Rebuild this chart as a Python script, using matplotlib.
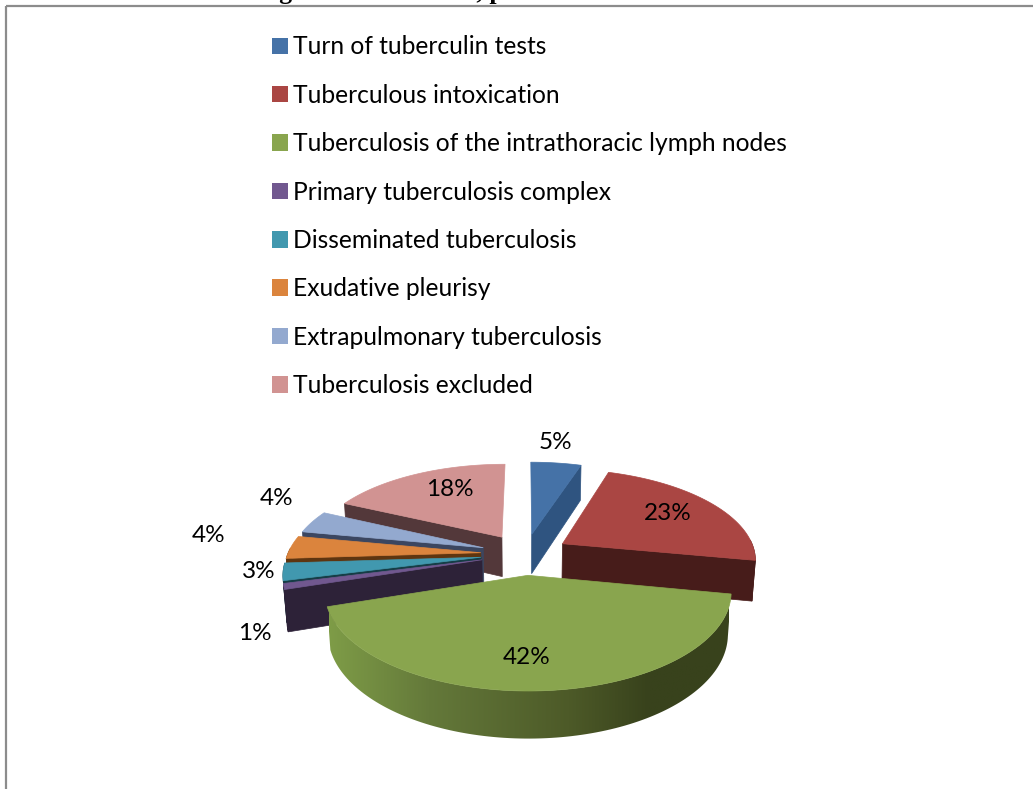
import numpy as np
import matplotlib
matplotlib.use("Agg")
import matplotlib.pyplot as plt
from matplotlib.patches import Patch, Polygon
from matplotlib.colors import LinearSegmentedColormap

# Values and names
categories = ["Turn of tuberculin tests", "Tuberculous intoxication",
              "Tuberculosis of the intrathoracic lymph nodes",
              "Primary tuberculosis complex", "Disseminated tuberculosis",
              "Exudative pleurisy", "Extrapulmonary tuberculosis",
              "Tuberculosis excluded"]
percents = [5, 23, 42, 1, 3, 4, 4, 18]
title_text = "according to clinical forms, patients were distributed as follows:"

# Styles and label placement
top_colors = ["#4572A7", "#AA4643", "#89A54E", "#71588F",
              "#4198AF", "#DB843D", "#93A9CF", "#D19392"]
wall_colors = ["#2F5480", "#471C1A", "#38421C", "#2D2238",
               "#163D46", "#5E3510", "#3B4660", "#53383A"]
label_x = [555, 668, 527, 255, 259, 209, 277, 450]
label_y = [442, 513, 657, 634, 571, 535, 498, 489]

# Projection of the exploded pie into figure pixels
CX, CY = 525, 554
A, B, K = 193, 89.5, 0.16
EXPLODE = 0.23
DEPTH = 41
SHRINK = 0.015

green_wall = LinearSegmentedColormap.from_list(
    "green_wall", [(0, "#7E9C47"), (0.25, "#64793A"), (0.6, "#4D5A28"), (0.8, "#38421C"), (1, "#38421C")])


def project(x, y, down=False):
    w = 1 + K * np.asarray(y)
    if down:
        return CX + A * x / (w + SHRINK), CY + (-B * np.asarray(y) + DEPTH) / (w + SHRINK)
    return CX + A * x / w, CY - B * y / w


fig = plt.figure(figsize=(10.33, 7.89), dpi=100)
ax = fig.add_axes([0, 0, 1, 1])
ax.axis("off")

# cumulative angles clockwise from 12 o'clock
edges = np.radians(np.cumsum([0] + percents) * 3.6)
wedges = []
for i in range(len(percents)):
    a0, a1 = edges[i], edges[i + 1]
    mid = (a0 + a1) / 2
    wedges.append((i, a0, a1, EXPLODE * np.sin(mid), EXPLODE * np.cos(mid)))

# paint from the back of the pie to the front
for i, a0, a1, ox, oy in sorted(wedges, key=lambda w: -w[4]):
    t = np.linspace(a0, a1, 120)
    rim_x, rim_y = ox + np.sin(t), oy + np.cos(t)
    wall = wall_colors[i]

    # radial faces, only the ones turned towards the viewer
    for ang, seen in ((a0, np.sin(a0) < -0.01), (a1, np.sin(a1) > 0.01)):
        if not seen:
            continue
        fx = np.array([ox, ox + np.sin(ang)])
        fy = np.array([oy, oy + np.cos(ang)])
        tx, ty = project(fx, fy)
        bx, by = project(fx, fy, down=True)
        ax.fill([tx[0], tx[1], bx[1], bx[0]], [ty[0], ty[1], by[1], by[0]],
                color=wall, lw=0.5, zorder=2)

    # outer wall, the green one carries a gradient
    front = np.cos(t) < 0.05
    if front.any():
        tx, ty = project(rim_x[front], rim_y[front])
        bx, by = project(rim_x[front], rim_y[front], down=True)
        xs = np.concatenate([tx, bx[::-1]])
        ys = np.concatenate([ty, by[::-1]])
        if i == 2:
            im = ax.imshow(np.linspace(0, 1, 256).reshape(1, -1), cmap=green_wall, aspect="auto",
                           extent=(329, 729, ys.max(), ys.min()), zorder=2)
            im.set_clip_path(Polygon(np.column_stack([xs, ys]), transform=ax.transData))
        else:
            ax.fill(xs, ys, color=wall, lw=0.5, zorder=2)

    # top surface
    sx, sy = project(np.concatenate([[ox], rim_x]), np.concatenate([[oy], rim_y]))
    ax.fill(sx, sy, color=top_colors[i], lw=0.5, zorder=2)

ax.set_xlim(0, 1033)
ax.set_ylim(789, 0)

for v, x, y in zip(percents, label_x, label_y):
    ax.text(x, y, f"{v}%", ha="center", va="center", fontsize=17.5,
            family="Lato", color="black", zorder=5)

handles = [Patch(facecolor=c, edgecolor="none") for c in top_colors]
ax.legend(handles, categories, loc="upper left", bbox_to_anchor=(264.6 / 1033, 1 - 28 / 789),
          frameon=False, prop={"family": "Lato", "size": 17.75}, handlelength=0.65,
          handleheight=0.65, handletextpad=0.2, labelspacing=1.03, borderpad=0.3,
          borderaxespad=0)

# frame of the embedded picture and the clipped caption above it
ax.plot([6, 1033], [5.5, 5.5], color="#8C8C8C", lw=1.6, solid_capstyle="butt", zorder=3)
ax.plot([6, 6], [5.5, 789], color="#8C8C8C", lw=1.6, solid_capstyle="butt", zorder=3)
ax.text(534, -1.5, title_text, ha="center", va="baseline", family="Liberation Serif",
        weight="bold", fontsize=18.5, color="black", zorder=4, clip_on=False)

fig.savefig("out.png", dpi=100)
